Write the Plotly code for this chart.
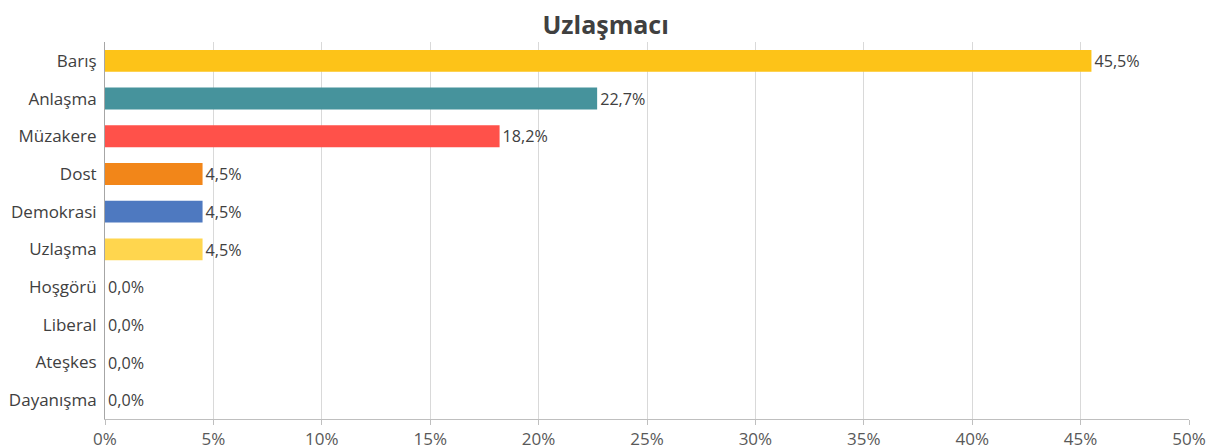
import plotly.graph_objects as go

categories = ["Barış", "Anlaşma", "Müzakere", "Dost", "Demokrasi", "Uzlaşma",
              "Hoşgörü", "Liberal", "Ateşkes", "Dayanışma"]
shares = [0.455, 0.227, 0.182, 0.045, 0.045, 0.045, 0.0, 0.0, 0.0, 0.0]
bar_colors = ["#FDC318", "#46939C", "#FF514A", "#F28619", "#4E79C0", "#FFD64E",
              "#A5A5A5", "#A5A5A5", "#A5A5A5", "#A5A5A5"]
x_ticks = [0, 0.05, 0.10, 0.15, 0.20, 0.25, 0.30, 0.35, 0.40, 0.45, 0.50]

font_family = "Open Sans, Noto Sans, sans-serif"

fig = go.Figure()
fig.add_trace(go.Bar(
    x=shares,
    y=categories,
    orientation="h",
    width=0.58,
    marker=dict(color=bar_colors, line=dict(width=0)),
    texttemplate="%{x:.1%}",
    textposition="outside",
    textfont=dict(size=17, color="#404040", family=font_family),
    cliponaxis=False,
    hoverinfo="none",
))

# page body has an 8px margin, so the margins are shifted by 8px to compensate
fig.update_layout(
    width=1221,
    height=448,
    separators=",.",
    paper_bgcolor="white",
    plot_bgcolor="white",
    showlegend=False,
    margin=dict(l=97, r=40, t=34, b=37, autoexpand=False),
    title=dict(text="<b>Uzlaşmacı</b>", x=0.4895, xanchor="center", y=0.961, yanchor="middle",
               font=dict(size=25, color="#404040", family=font_family)),
    font=dict(family=font_family, size=17, color="#595959"),
    xaxis=dict(
        range=[0, 0.5],
        tickvals=x_ticks,
        tickformat=".0%",
        automargin=False,
        showgrid=True,
        gridcolor="#D9D9D9",
        gridwidth=1,
        zeroline=False,
        showline=True,
        linecolor="#BFBFBF",
        ticks="outside",
        ticklen=5,
        tickcolor="#BFBFBF",
        tickfont=dict(size=17, color="#595959"),
    ),
    yaxis=dict(
        categoryorder="array",
        categoryarray=categories[::-1],
        range=[-0.5, 9.5],
        automargin=False,
        showgrid=False,
        zeroline=False,
        showline=True,
        linecolor="#A6A6A6",
        ticks="",
        ticklabelstandoff=4,
        tickfont=dict(size=17, color="#404040"),
    ),
)

fig.write_html("out.html")
